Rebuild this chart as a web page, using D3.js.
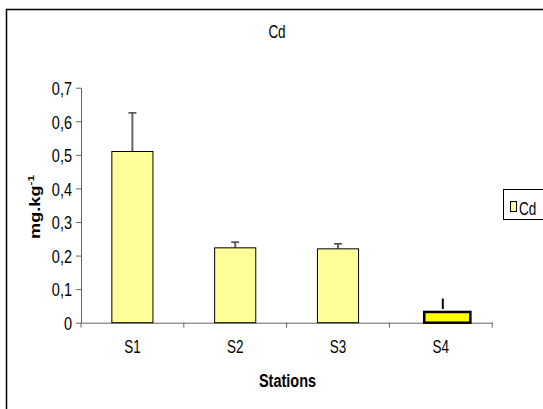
<!DOCTYPE html>
<html>
<head>
<meta charset="utf-8">
<script src="https://cdn.jsdelivr.net/npm/d3@7"></script>
<style>
	body { margin: 0; background: #fff; }
	text { font-family: "Liberation Sans", Arial, sans-serif; }
</style>
</head>
<body>
<svg id="chart" width="543" height="409"></svg>
<script>
var stations = [ 'S1', 'S2', 'S3', 'S4' ],
	cd = [ 0.51, 0.223, 0.22, 0.032 ],
	cdErr = [ 0.115, 0.017, 0.015, 0.04 ],
	yTicks = [ 0, 0.1, 0.2, 0.3, 0.4, 0.5, 0.6, 0.7 ],
	selected = 'S4';

// the original picture is stretched vertically, so is the text
var STRETCH = 1.3;

var svg = d3.select( '#chart' );

// outer frame (runs off the right and bottom edges)
svg.append( 'rect' )
	.attr( 'x', 6.5 ).attr( 'y', 9.5 )
	.attr( 'width', 600 ).attr( 'height', 500 )
	.style( 'fill', '#fff' ).style( 'stroke', '#000' ).style( 'stroke-width', 1.5 );

var x = d3.scaleBand().domain( stations ).range( [ 81, 492.2 ] ).paddingInner( 0.6 ).paddingOuter( 0.3 ),
	y = d3.scaleLinear().domain( [ 0, 0.7 ] ).range( [ 322.7, 87.7 ] );

var comma = function( d ) { return d === 0 ? '0' : d3.format( '.1f' )( d ).replace( '.', ',' ); };

var label = function( g, tx, ty, txt, size, bold, anchor ) {
	return g.append( 'text' )
		.attr( 'transform', 'translate(' + tx + ',' + ty + ') scale(1,' + STRETCH + ')' )
		.attr( 'text-anchor', anchor || 'middle' )
		.style( 'font-size', size + 'px' )
		.style( 'font-weight', bold ? 'bold' : 'normal' )
		.text( txt );
};

// y axis
var gy = svg.append( 'g' )
	.attr( 'transform', 'translate(81,0)' )
	.call( d3.axisLeft( y ).tickValues( yTicks ).tickFormat( comma ).tickSize( 5 ).tickSizeOuter( 0 ) );
gy.selectAll( 'path, line' ).style( 'stroke', '#666' );
gy.selectAll( 'text' )
	.style( 'font-size', '14.5px' ).style( 'fill', '#000' )
	.attr( 'x', -9 ).attr( 'dy', '0.36em' )
	.attr( 'transform', 'scale(1,' + STRETCH + ')' );

// x axis: labels at centres, ticks at band borders
var gx = svg.append( 'g' )
	.attr( 'transform', 'translate(0,' + y( 0 ) + ')' )
	.call( d3.axisBottom( x ).tickSize( 0 ).tickSizeOuter( 0 ) );
gx.select( 'path' ).style( 'stroke', '#666' );
gx.selectAll( 'text' )
	.style( 'font-size', '13.5px' ).style( 'fill', '#000' )
	.attr( 'y', 0 ).attr( 'dy', 0 )
	.attr( 'transform', 'translate(0,30.6) scale(1,' + STRETCH + ')' );

var borders = d3.range( stations.length + 1 ).map( function( i ) { return x.range()[ 0 ] + i * x.step(); } );
gx.selectAll( 'line.border' ).data( borders )
	.enter().append( 'line' )
	.attr( 'class', 'border' )
	.attr( 'x1', function( d ) { return d; } ).attr( 'x2', function( d ) { return d; } )
	.attr( 'y1', 0 ).attr( 'y2', 5 )
	.style( 'stroke', '#666' );

// error bars
var ex = function( d ) { return x( d ) + x.bandwidth() / 2; };
stations.forEach( function( s, i ) {
	var top = y( cd[ i ] + cdErr[ i ] );
	if ( s === selected ) {
		svg.append( 'line' )
			.attr( 'x1', ex( s ) + 2 ).attr( 'x2', ex( s ) + 2 )
			.attr( 'y1', top ).attr( 'y2', y( cd[ i ] ) - 3 )
			.style( 'stroke', '#000' ).style( 'stroke-width', 2 );
		return;
	}
	svg.append( 'line' )
		.attr( 'x1', ex( s ) ).attr( 'x2', ex( s ) )
		.attr( 'y1', top ).attr( 'y2', y( cd[ i ] ) )
		.style( 'stroke', '#666' ).style( 'stroke-width', 2 );
	svg.append( 'line' )
		.attr( 'x1', ex( s ) - 4 ).attr( 'x2', ex( s ) + 4 )
		.attr( 'y1', top ).attr( 'y2', top )
		.style( 'stroke', '#444' ).style( 'stroke-width', 1.5 );
} );

// bars
svg.selectAll( 'rect.bar' ).data( stations )
	.enter().append( 'rect' )
	.attr( 'class', 'bar' )
	.attr( 'x', function( d ) { return d === selected ? x( d ) + 4 : x( d ); } )
	.attr( 'y', function( d, i ) { return y( cd[ i ] ); } )
	.attr( 'width', function( d ) { return d === selected ? x.bandwidth() + 5 : x.bandwidth(); } )
	.attr( 'height', function( d, i ) { return y( 0 ) - y( cd[ i ] ); } )
	.style( 'fill', function( d ) { return d === selected ? '#ffff00' : '#ffff99'; } )
	.style( 'stroke', '#000' )
	.style( 'stroke-width', function( d ) { return d === selected ? 2.5 : 1; } );

// title and axis titles
label( svg, 277, 37.7, 'Cd', 13.5 );
label( svg, 287.5, 386.7, 'Stations', 14.5, true );

var yt = svg.append( 'text' )
	.attr( 'transform', 'translate(40,207) scale(1,' + STRETCH + ') rotate(-90)' )
	.attr( 'text-anchor', 'middle' )
	.style( 'font-size', '14px' ).style( 'font-weight', 'bold' );
yt.append( 'tspan' ).text( 'mg.kg' );
yt.append( 'tspan' ).attr( 'dy', -6 ).style( 'font-size', '9px' ).text( '-1' );

// legend
svg.append( 'rect' )
	.attr( 'x', 503.5 ).attr( 'y', 189.5 )
	.attr( 'width', 60 ).attr( 'height', 30 )
	.style( 'fill', '#fff' ).style( 'stroke', '#000' );
svg.append( 'rect' )
	.attr( 'x', 510.5 ).attr( 'y', 201.5 )
	.attr( 'width', 6 ).attr( 'height', 10 )
	.style( 'fill', '#ffff99' ).style( 'stroke', '#000' );
label( svg, 519, 215, 'Cd', 13.5, false, 'start' );
</script>
</body>
</html>
